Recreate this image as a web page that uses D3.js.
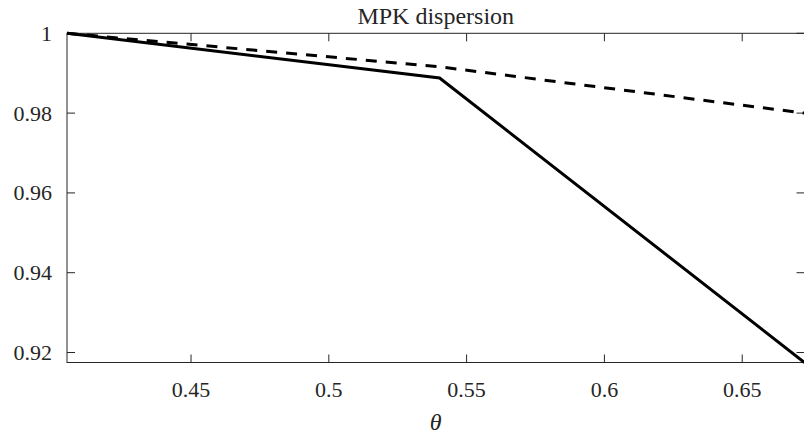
<!DOCTYPE html>
<html><head><meta charset="utf-8">
<script src="https://cdn.jsdelivr.net/npm/d3@7"></script>
<style>body{margin:0;background:#fff}svg{display:block}text{font-family:"Liberation Serif","DejaVu Serif",serif;fill:#262626}</style>
</head><body>
<svg id="c" width="804" height="436"></svg>
<script>
const thetaSolid = [0.405, 0.5402, 0.6726];
const mpkSolid = [1.0, 0.9888, 0.9175];
const thetaDashed = [0.405, 0.5402, 0.6726];
const mpkDashed = [1.0, 0.9916, 0.9800];
const xTicks = [0.45, 0.5, 0.55, 0.6, 0.65];
const yTicks = [0.92, 0.94, 0.96, 0.98, 1];
const xDomain = [0.405, 0.6726];
const yDomain = [0.9175, 1.0];

const svg = d3.select("#c");
const L = 67, R = 804.5, T = 33.3, B = 362.5;
const x = d3.scaleLinear().domain(xDomain).range([L, R]);
const y = d3.scaleLinear().domain(yDomain).range([B, T]);
const col = "#262626", tl = 8;

const g = svg.append("g");
// ticks
xTicks.forEach(v => {
  g.append("line").attr("x1", x(v)).attr("x2", x(v)).attr("y1", B).attr("y2", B - tl).attr("stroke", col);
  g.append("line").attr("x1", x(v)).attr("x2", x(v)).attr("y1", T).attr("y2", T + tl).attr("stroke", col);
  g.append("text").attr("x", x(v)).attr("y", 397).attr("text-anchor", "middle").attr("font-size", 22).text(d3.format("")(v));
});
yTicks.forEach(v => {
  g.append("line").attr("x1", L).attr("x2", L + tl).attr("y1", y(v)).attr("y2", y(v)).attr("stroke", col);
  g.append("line").attr("x1", R).attr("x2", R - tl).attr("y1", y(v)).attr("y2", y(v)).attr("stroke", col);
  g.append("text").attr("x", 52).attr("y", y(v)).attr("dy", "0.34em").attr("text-anchor", "end").attr("font-size", 22).text(d3.format("")(v));
});
// box
g.append("rect").attr("x", L).attr("y", T).attr("width", R - L).attr("height", B - T).attr("fill", "none").attr("stroke", col).attr("stroke-width", 1);

const line = d3.line().x(d => x(d[0])).y(d => y(d[1]));
svg.append("path").datum(d3.zip(thetaDashed, mpkDashed)).attr("d", line)
  .attr("fill", "none").attr("stroke", "#000").attr("stroke-width", 3).attr("stroke-dasharray", "11,9");
svg.append("path").datum(d3.zip(thetaSolid, mpkSolid)).attr("d", line)
  .attr("fill", "none").attr("stroke", "#000").attr("stroke-width", 3).attr("stroke-linejoin", "miter");

svg.append("text").attr("x", (L + R) / 2).attr("y", 24).attr("text-anchor", "middle").attr("font-size", 24).text("MPK dispersion");
svg.append("text").attr("x", (L + R) / 2).attr("y", 430).attr("text-anchor", "middle").attr("font-size", 24).attr("font-style", "italic").text("θ");
</script>
</body></html>
